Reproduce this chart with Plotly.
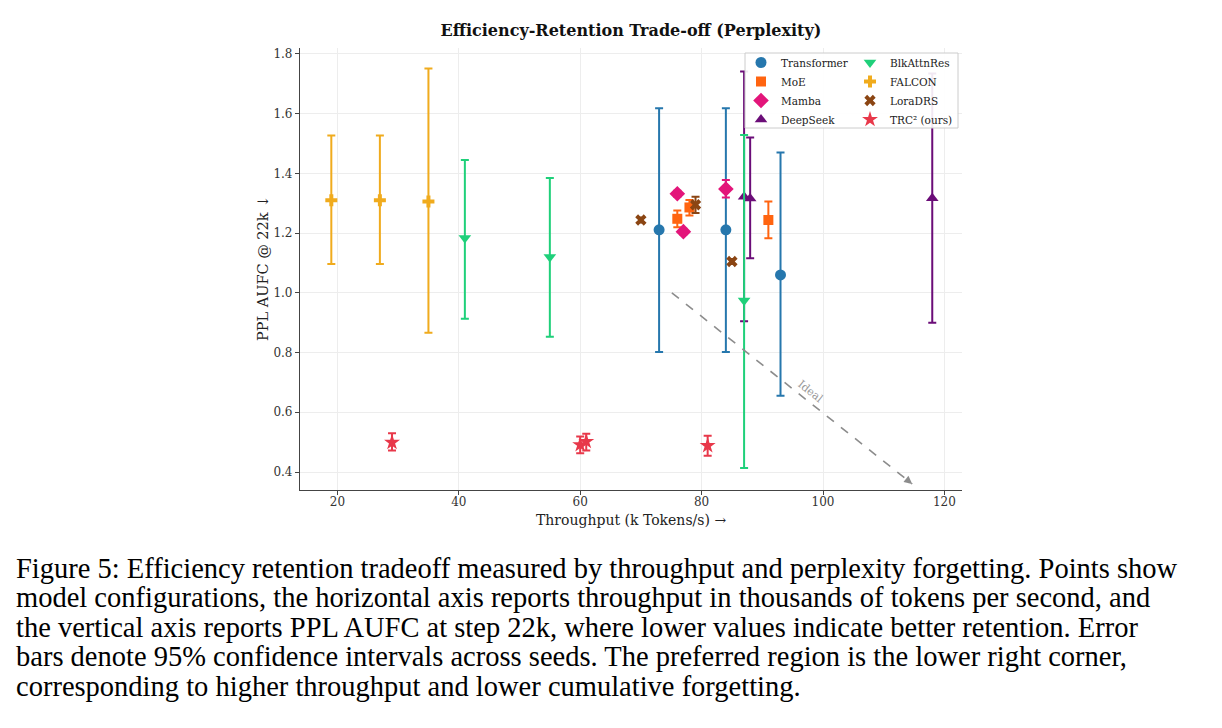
import plotly.graph_objects as go

# ---------------- data ----------------
series_names = ["Transformer", "MoE", "Mamba", "DeepSeek",
                "BlkAttnRes", "FALCON", "LoraDRS", "TRC² (ours)"]

transformer_x = [73, 84, 93]
transformer_y = [1.211, 1.211, 1.060]
transformer_lo = [0.802, 0.802, 0.655]
transformer_hi = [1.618, 1.618, 1.470]

moe_x = [76, 78, 91]
moe_y = [1.248, 1.286, 1.244]
moe_lo = [1.220, 1.259, 1.183]
moe_hi = [1.276, 1.311, 1.306]

mamba_x = [76, 77, 84]
mamba_y = [1.332, 1.205, 1.348]
mamba_lo = [1.322, 1.195, 1.319]
mamba_hi = [1.342, 1.215, 1.378]

deepseek_x = [87, 88, 118]
deepseek_y = [1.322, 1.316, 1.317]
deepseek_lo = [0.905, 1.116, 0.900]
deepseek_hi = [1.741, 1.520, 1.735]

blk_x = [41, 55, 87]
blk_y = [1.184, 1.120, 0.974]
blk_lo = [0.913, 0.853, 0.413]
blk_hi = [1.445, 1.385, 1.529]

falcon_x = [19, 27, 35]
falcon_y = [1.310, 1.310, 1.306]
falcon_lo = [1.097, 1.097, 0.866]
falcon_hi = [1.527, 1.527, 1.751]

lora_x = [70, 79, 85]
lora_y = [1.244, 1.295, 1.105]
lora_lo = [1.236, 1.267, 1.097]
lora_hi = [1.252, 1.322, 1.113]

trc_x = [29, 60, 61, 81]
trc_y = [0.499, 0.491, 0.502, 0.488]
trc_lo = [0.472, 0.463, 0.472, 0.454]
trc_hi = [0.530, 0.519, 0.528, 0.521]

x_ticks = [20, 40, 60, 80, 100, 120]
y_ticks = [0.4, 0.6, 0.8, 1.0, 1.2, 1.4, 1.6, 1.8]

ideal_start = (75.1, 1.0)
ideal_end = (114.7, 0.36)

caption_lines = [
    "Figure 5: Efficiency retention tradeoff measured by throughput and perplexity forgetting. Points show",
    "model configurations, the horizontal axis reports throughput in thousands of tokens per second, and",
    "the vertical axis reports PPL AUFC at step 22k, where lower values indicate better retention. Error",
    "bars denote 95% confidence intervals across seeds. The preferred region is the lower right corner,",
    "corresponding to higher throughput and lower cumulative forgetting.",
]

# ---------------- layout geometry ----------------
W, H = 1222, 728
L, R, T, B = 300, 962, 48, 490  # plot area in pixels


def px_x(p):
    return (p - L) / (R - L)


def px_y(p):
    return (B - p) / (B - T)


SERIF = "DejaVu Serif"

fig = go.Figure()

styles = [
    (series_names[0], transformer_x, transformer_y, transformer_lo, transformer_hi, "#2677ad", "circle", 11, "legend"),
    (series_names[1], moe_x, moe_y, moe_lo, moe_hi, "#ff6410", "square", 10, "legend"),
    (series_names[2], mamba_x, mamba_y, mamba_lo, mamba_hi, "#e3157a", "diamond", 12, "legend"),
    (series_names[3], deepseek_x, deepseek_y, deepseek_lo, deepseek_hi, "#6b0d78", "triangle-up", 11, "legend"),
    (series_names[4], blk_x, blk_y, blk_lo, blk_hi, "#1fd07a", "triangle-down", 11, "legend2"),
    (series_names[5], falcon_x, falcon_y, falcon_lo, falcon_hi, "#f0ab1d", "cross", 10, "legend2"),
    (series_names[6], lora_x, lora_y, lora_lo, lora_hi, "#8b4513", "x", 10, "legend2"),
    (series_names[7], trc_x, trc_y, trc_lo, trc_hi, "#e8384a", "star", 12, "legend2"),
]

for name, xs, ys, lo, hi, col, sym, size, leg in styles:
    fig.add_trace(go.Scatter(
        x=xs, y=ys, mode="markers", name=name, legend=leg,
        marker=dict(color=col, symbol=sym, size=size, line=dict(width=0)),
        error_y=dict(type="data", symmetric=False,
                     array=[h - v for h, v in zip(hi, ys)],
                     arrayminus=[v - l for v, l in zip(ys, lo)],
                     color=col, thickness=2, width=4),
    ))

# Ideal arrow (dashed line + arrowhead)
fig.add_shape(type="line", xref="x", yref="y",
              x0=ideal_start[0], y0=ideal_start[1], x1=ideal_end[0], y1=ideal_end[1],
              line=dict(color="#8c8c8c", width=1.6, dash="dash"))
fig.add_annotation(x=ideal_end[0], y=ideal_end[1], xref="x", yref="y",
                   ax=ideal_end[0] - 1.2, ay=ideal_end[1] + 0.0194, axref="x", ayref="y",
                   showarrow=True, arrowhead=2, arrowsize=1, arrowwidth=1.6,
                   arrowcolor="#8c8c8c", text="")
fig.add_annotation(x=97.9, y=0.668, xref="x", yref="y", text="Ideal", showarrow=False,
                   textangle=38.5, font=dict(family=SERIF, size=11, color="#999999"))

# legend box
fig.add_shape(type="rect", xref="paper", yref="paper", layer="above",
              x0=px_x(745), x1=px_x(958), y0=px_y(128), y1=px_y(53),
              fillcolor="rgba(255,255,255,0.9)", line=dict(color="#cccccc", width=1))

# axis titles
fig.add_annotation(x=0.5, y=px_y(520), xref="paper", yref="paper", showarrow=False,
                   xanchor="center", yanchor="middle",
                   text="Throughput (k Tokens/s) →", font=dict(family=SERIF, size=14, color="#222"))
fig.add_annotation(x=px_x(263), y=0.5, xref="paper", yref="paper", showarrow=False,
                   xanchor="center", yanchor="middle",
                   text="PPL AUFC @ 22k ↓", textangle=-90, font=dict(family=SERIF, size=14.5, color="#222"))

# caption
cap_y = [568, 597.5, 627, 656.5, 686]
for line, cy in zip(caption_lines, cap_y):
    fig.add_annotation(x=px_x(14), y=px_y(cy), xref="paper", yref="paper", showarrow=False,
                       xanchor="left", yanchor="middle", text=line,
                       font=dict(family="Liberation Serif", size=28.5, color="#000"))

axis_common = dict(showline=True, linecolor="#444", linewidth=1.2, ticks="outside",
                   ticklen=4, tickcolor="#444", tickwidth=1, showgrid=True,
                   gridcolor="#ededed", gridwidth=1, zeroline=False, mirror=False,
                   tickfont=dict(family=SERIF, size=12, color="#333"))

fig.update_layout(
    width=W, height=H,
    margin=dict(l=L, r=W - R, t=T, b=H - B),
    paper_bgcolor="white", plot_bgcolor="white",
    title=dict(text="<b>Efficiency-Retention Trade-off (Perplexity)</b>", x=0.5, xref="paper",
               y=1 - 30 / H, yanchor="middle",
               font=dict(family=SERIF, size=16, color="#111")),
    xaxis=dict(range=[13.84, 122.9], tickvals=x_ticks, ticklabelstandoff=-4, **axis_common),
    yaxis=dict(range=[0.3397, 1.820], tickvals=y_ticks, tickformat=".1f", **axis_common),
    legend=dict(x=px_x(741), y=px_y(48), xanchor="left", yanchor="top",
                bgcolor="rgba(0,0,0,0)", borderwidth=0, itemwidth=30,
                font=dict(family=SERIF, size=10.5, color="#222"), tracegroupgap=0),
    legend2=dict(x=px_x(850), y=px_y(48), xanchor="left", yanchor="top",
                 bgcolor="rgba(0,0,0,0)", borderwidth=0, itemwidth=30,
                 font=dict(family=SERIF, size=10.5, color="#222"), tracegroupgap=0),
    showlegend=True,
)

fig.write_html("out.html")
